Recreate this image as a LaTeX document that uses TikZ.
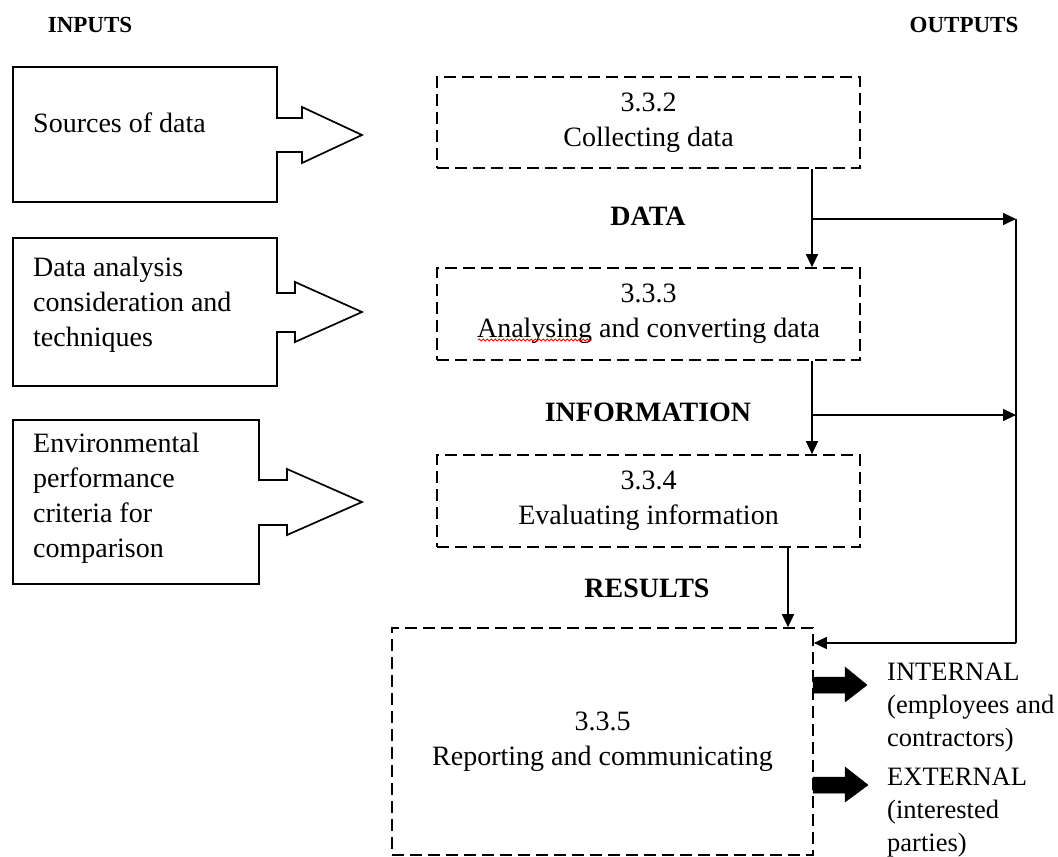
\documentclass[tikz,border=0pt]{standalone}
\usepackage{fontspec}
\setmainfont{Liberation Serif}
\usetikzlibrary{arrows.meta,decorations.pathmorphing}
\begin{document}
\begin{tikzpicture}[x=1pt,y=-1pt,
  txt/.style={font=\fontsize{28}{35}\selectfont, inner sep=0pt},
  proc/.style={txt, draw, line width=1.7pt, dash pattern=on 12pt off 6pt, align=center, minimum width=423pt},
  lbl/.style={font=\fontsize{28}{35}\selectfont\bfseries, inner sep=0pt},
  head/.style={font=\fontsize{23}{28}\selectfont\bfseries, inner sep=0pt},
  outl/.style={draw, line width=1.7pt, line join=miter},
  flow/.style={line width=1.6pt, -{Triangle[length=13pt,width=12pt]}},
  fat/.style={fill=black, draw=black, line width=0.5pt},
  outtxt/.style={font=\fontsize{26.5}{33}\selectfont, inner sep=0pt, align=left, anchor=west}
]
\useasboundingbox (0,0) rectangle (1058,857);

% headings
\node[head] (hin) at (90,25) {INPUTS};
\node[head] (hout) at (964,25) {OUTPUTS};

% input callouts
\draw[outl] (13,67) -- (277,67) -- (277,118) -- (302,118) -- (302,107) -- (362,135)
  -- (302,163) -- (302,152) -- (277,152) -- (277,202) -- (13,202) -- cycle;
\node[txt, anchor=north west, align=left] (in1) at (33,113) {Sources of data};

\draw[outl] (13,238) -- (277,238) -- (277,293) -- (295,293) -- (295,282) -- (362,312)
  -- (295,342) -- (295,332) -- (277,332) -- (277,386) -- (13,386) -- cycle;
\node[txt, anchor=north west, align=left] (in2) at (33,257) {Data analysis\\consideration and\\techniques};

\draw[outl] (13,420) -- (259,420) -- (259,480) -- (287,480) -- (287,469) -- (362,502)
  -- (287,535) -- (287,525) -- (259,525) -- (259,584) -- (13,584) -- cycle;
\node[txt, anchor=north west, align=left] (in3) at (33,433) {Environmental\\performance\\criteria for\\comparison};

% process boxes
\node[proc, minimum height=91pt] (p332) at (648.5,122.5) {3.3.2\\Collecting data};
\node[proc, minimum height=92pt] (p333) at (648.5,314) {3.3.3\\Analysing and converting data};
\node[proc, minimum height=92pt] (p334) at (648.5,501) {3.3.4\\Evaluating information};
\node[proc, minimum width=421pt, minimum height=227pt] (p335) at (602.5,741.5) {3.3.5\\Reporting and communicating};

% spell-check squiggle
\draw[red, line width=0.8pt, decorate, decoration={snake, amplitude=1.1pt, segment length=4pt}] (478,340) -- (592,340);

% flow labels
\node[lbl] (ldata) at (648,216) {DATA};
\node[lbl] (linfo) at (648,412) {INFORMATION};
\node[lbl] (lres) at (647,588) {RESULTS};

% connectors
\coordinate (c1) at (812,219);
\coordinate (c2) at (812,415);
\coordinate (c3) at (788,590);
\coordinate (r1) at (1016,219);
\coordinate (r2) at (1016,415);
\coordinate (r3) at (1016,643);
\draw[flow] (c1 |- p332.south) -- (c1 |- p333.north);
\draw[flow] (c1) -- (r1);
\draw[flow] (c2 |- p333.south) -- (c2 |- p334.north);
\draw[flow] (c2) -- (r2);
\draw[flow] (c3 |- p334.south) -- (c3 |- p335.north);
\draw[line width=1.6pt] (r1) -- (r3);
\draw[flow] (r3) -- (r3 -| p335.east);

% output arrows
\coordinate (a1) at (813,685);
\coordinate (a2) at (813,785);
\draw[fat] (a1) ++(0,-8) -- ++(32,0) -- ++(0,-10) -- ++(22,18) -- ++(-22,17) -- ++(0,-9) -- ++(-32,0) -- cycle;
\draw[fat] (a2) ++(0,-8) -- ++(32,0) -- ++(0,-10) -- ++(23,18) -- ++(-23,17) -- ++(0,-9) -- ++(-32,0) -- cycle;

\node[outtxt] (oint) at (887,708) {INTERNAL\\(employees and\\contractors)};
\node[outtxt] (oext) at (887,813) {EXTERNAL\\(interested\\parties)};
\end{tikzpicture}
\end{document}
